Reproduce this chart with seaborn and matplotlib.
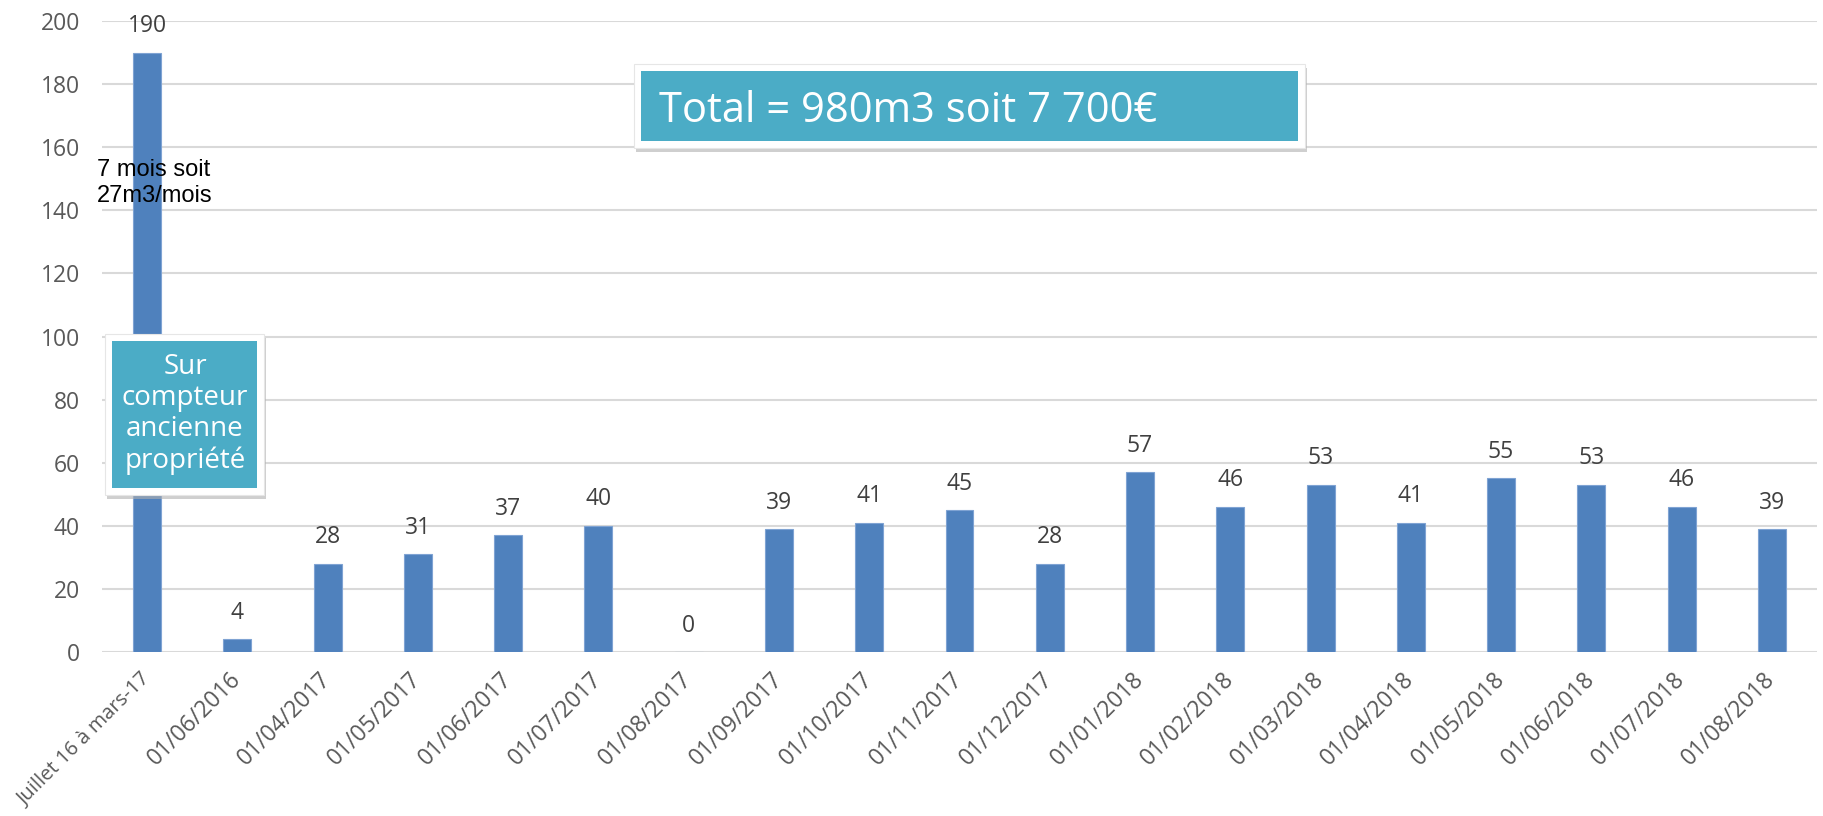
import matplotlib
matplotlib.use("Agg")
import matplotlib.pyplot as plt
from matplotlib.patches import Rectangle
import seaborn as sns
import pandas as pd

# --- Data ---
periodes = ["Juillet 16 à mars-17", "01/06/2016", "01/04/2017", "01/05/2017",
            "01/06/2017", "01/07/2017", "01/08/2017", "01/09/2017", "01/10/2017",
            "01/11/2017", "01/12/2017", "01/01/2018", "01/02/2018", "01/03/2018",
            "01/04/2018", "01/05/2018", "01/06/2018", "01/07/2018", "01/08/2018"]
volumes = [190, 4, 28, 31, 37, 40, 0, 39, 41, 45, 28, 57, 46, 53, 41, 55, 53, 46, 39]
y_ticks = list(range(0, 201, 20))

total_text = "Total = 980m3 soit 7 700€"
note_text = "7 mois soit\n27m3/mois"
box_text = "Sur\ncompteur\nancienne\npropriété"

df = pd.DataFrame({"periode": periodes, "volume": volumes})

# --- Style ---
sns.set_theme(style="white")
plt.rcParams['font.family'] = ['Open Sans', 'DejaVu Sans']

bar_col = "#4F81BD"
box_col = "#4BACC6"
grey = "#595959"

W, H = 1824, 816
fig = plt.figure(figsize=(W / 100, H / 100), dpi=100)
ax = fig.add_axes([102 / W, 1 - 652 / H, (1817 - 102) / W, (652 - 21) / H])

sns.barplot(data=df, x="periode", y="volume", color=bar_col, saturation=1,
            width=0.31, ax=ax, edgecolor="#7fa3d3", linewidth=0.8)

ax.set_xlim(-0.5, len(periodes) - 0.5)
ax.set_ylim(0, 200)
ax.set_yticks(y_ticks)
ax.yaxis.grid(True, color="#D9D9D9", linewidth=1.5)
ax.set_axisbelow(True)
for s in ax.spines.values():
    s.set_visible(False)
ax.set_xlabel("")
ax.set_ylabel("")
ax.tick_params(axis="y", length=0, pad=16, labelsize=16.5, labelcolor=grey)
ax.tick_params(axis="x", length=0, pad=17, labelsize=16.5, labelcolor=grey)
plt.setp(ax.get_xticklabels(), rotation=45, ha="right", va="center",
         rotation_mode="anchor")
# the long first label is narrower in the original font
ax.get_xticklabels()[0].set_fontsize(14.5)

# value labels
for i, v in enumerate(volumes):
    ax.annotate(str(v), (i, v), xytext=(0, 19), textcoords="offset points",
                ha="center", va="center", fontsize=16.5, color="#404040")

# annotation next to first bar
fig.text(97 / W, 1 - 183 / H, note_text, fontsize=17, color="black",
         family="Liberation Sans", ha="left", va="center", linespacing=1.2)


def callout(x0, y0, x1, y1, border=6):
    # shadow, white frame, teal box (pixel coords)
    fig.patches.append(Rectangle((x0 / W + 2 / W, 1 - (y1 + 4) / H),
                                 (x1 - x0) / W, (y1 - y0) / H,
                                 transform=fig.transFigure, fc="#b0b0b0",
                                 ec="none", alpha=0.6, zorder=5))
    fig.patches.append(Rectangle((x0 / W, 1 - y1 / H), (x1 - x0) / W,
                                 (y1 - y0) / H, transform=fig.transFigure,
                                 fc="white", ec="#e6e6e6", lw=0.8, zorder=6))
    fig.patches.append(Rectangle(((x0 + border) / W, 1 - (y1 - border) / H),
                                 (x1 - x0 - 2 * border) / W,
                                 (y1 - y0 - 2 * border) / H,
                                 transform=fig.transFigure, fc=box_col,
                                 ec="none", zorder=7))


callout(634, 64, 1305, 148, border=7)
fig.text(659 / W, 1 - 122 / H, total_text, fontsize=30, color="white",
         ha="left", va="baseline", zorder=8)

callout(105, 334, 264, 495, border=7)
fig.text(185 / W, 1 - 414 / H, box_text, fontsize=20, color="white",
         ha="center", va="center", linespacing=1.15, zorder=8)

fig.savefig("out.png", dpi=100)
